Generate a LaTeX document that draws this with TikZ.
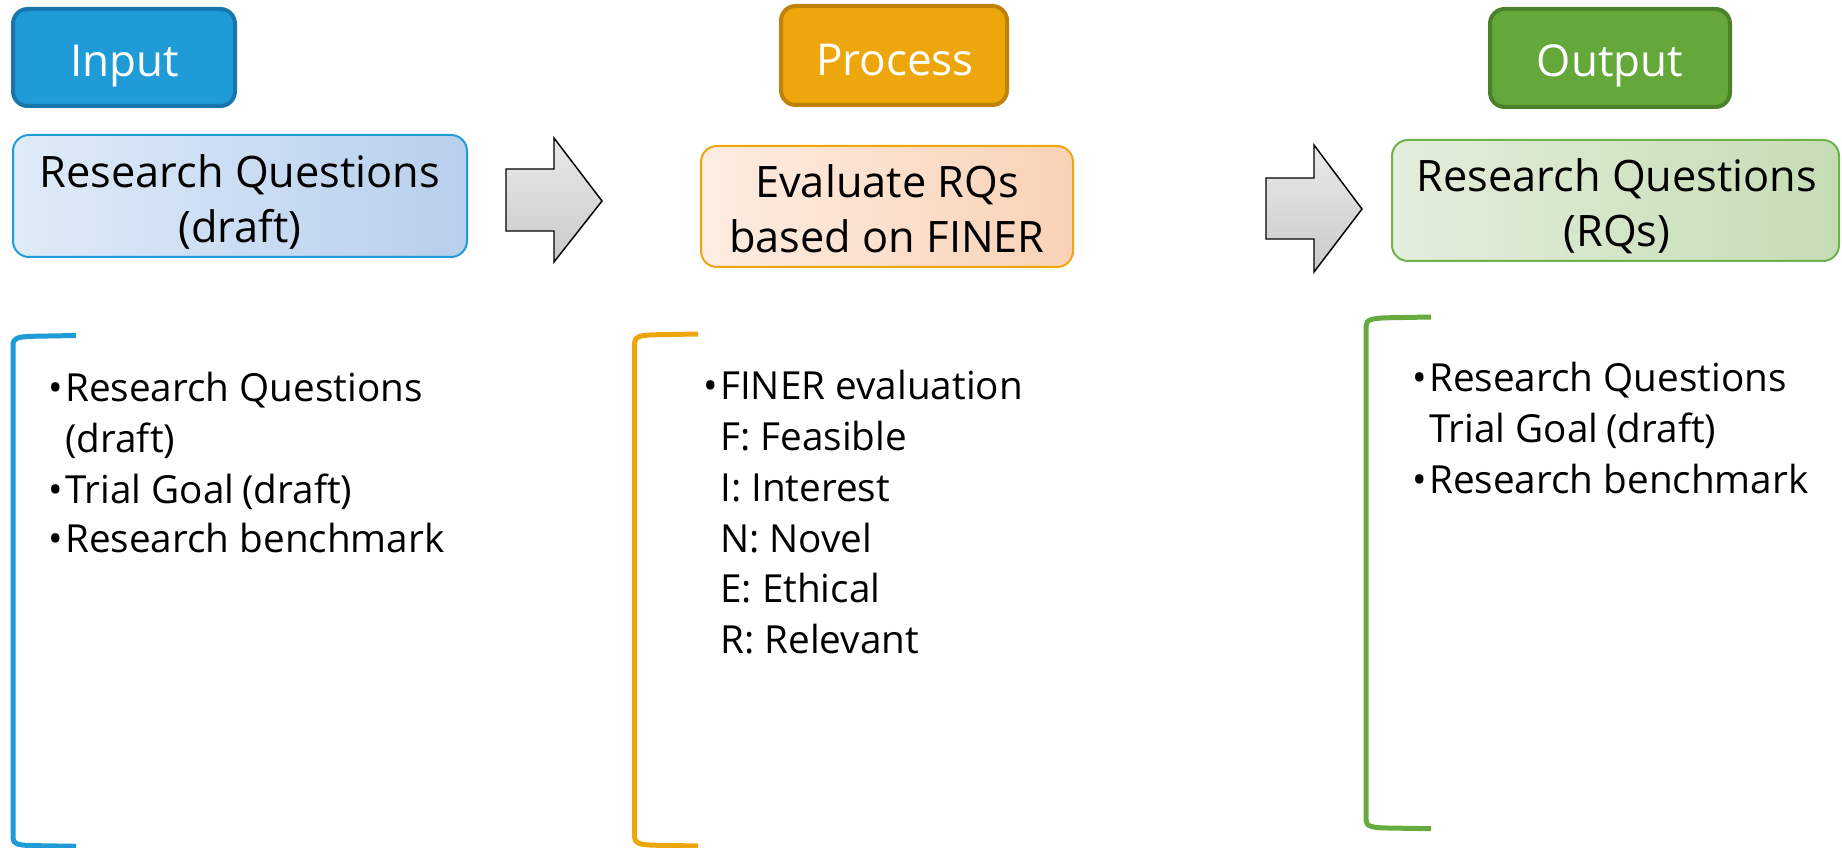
\documentclass[tikz,border=0pt]{standalone}
\usepackage{fontspec}
\setmainfont{Open Sans}

% palette
\definecolor{inblue}{HTML}{1F9BD7}
\definecolor{inblueD}{HTML}{1777AB}
\definecolor{prorange}{HTML}{EEA60D}
\definecolor{prorangeD}{HTML}{BF8108}
\definecolor{outgreen}{HTML}{64A83A}
\definecolor{outgreenD}{HTML}{4C812C}
\definecolor{blueA}{HTML}{DFEBF8}
\definecolor{blueB}{HTML}{B7CFED}
\definecolor{peachA}{HTML}{FDEDE2}
\definecolor{peachB}{HTML}{F9D2B6}
\definecolor{greenA}{HTML}{E3EEDC}
\definecolor{greenB}{HTML}{C5DCB4}
\definecolor{greenE}{HTML}{6DB24A}
\definecolor{brgreen}{HTML}{67AB3E}
\definecolor{grayA}{HTML}{E9E9E9}
\definecolor{grayB}{HTML}{CACACA}

\newcommand\pxl{0.75pt}
\newcommand\hdrfont{\fontsize{33}{40}\selectfont}
\newcommand\boxfont{\fontsize{32.5}{40}\selectfont}
\newcommand\listfont{\fontsize{29}{36}\selectfont}
\newcommand\bul{\makebox[12.75pt][l]{•}}

\tikzset{
  header/.style={rectangle, rounded corners=11pt, line width=3pt, inner sep=0pt},
  stagebox/.style={rectangle, rounded corners=12pt, line width=1.5pt, inner sep=0pt},
  hdrtext/.style={anchor=base, inner sep=0pt, text=white, font=\hdrfont},
  boxtext/.style={anchor=base, inner sep=0pt, text=black, font=\boxfont},
  listtext/.style={anchor=base west, inner sep=0pt, text=black, font=\listfont},
  blockarrow/.style={draw=black, line width=1.1pt, line join=miter,
    top color=grayA, bottom color=grayB},
  bracket/.style={line width=3.75pt, line cap=butt, line join=round},
}

\begin{document}
\begin{tikzpicture}[x=0.75pt, y=-0.75pt]
\useasboundingbox (0,0) rectangle (1842,848);

% ---- stage headers
\node[header, draw=inblueD, fill=inblue,
      minimum width=222*\pxl, minimum height=97*\pxl] (inhdr) at (124,57.5) {};
\node[hdrtext] (intxt) at (124.5,77) {Input};

\node[header, draw=prorangeD, fill=prorange,
      minimum width=226*\pxl, minimum height=99*\pxl] (prohdr) at (894,55.5) {};
\node[hdrtext] (protxt) at (895,76) {Process};

\node[header, draw=outgreenD, fill=outgreen,
      minimum width=240*\pxl, minimum height=98*\pxl] (outhdr) at (1610,58) {};
\node[hdrtext] (outtxt) at (1610,77) {Output};

% ---- stage boxes
\node[stagebox, draw=inblue, left color=blueA, middle color=blueA, right color=blueB,
      minimum width=454*\pxl, minimum height=122*\pxl] (inbox) at (240,196) {};
\node[boxtext] (inboxa) at (240,188) {Research Questions};
\node[boxtext] (inboxb) at (240,243) {(draft)};

\node[stagebox, draw=prorange, left color=peachA, middle color=peachA, right color=peachB,
      minimum width=372*\pxl, minimum height=121*\pxl] (probox) at (887,206.5) {};
\node[boxtext] (proboxa) at (887,198) {Evaluate RQs};
\node[boxtext] (proboxb) at (887,253) {based on FINER};

\node[stagebox, draw=greenE, left color=greenA, middle color=greenA, right color=greenB,
      minimum width=447*\pxl, minimum height=121*\pxl] (outbox) at (1615.5,200.5) {};
\node[boxtext] (outboxa) at (1617,192) {Research Questions};
\node[boxtext] (outboxb) at (1617,247) {(RQs)};

% ---- block arrows between the stages
\draw[blockarrow] (506,169) -- (554,169) -- (554,138) -- (602,201)
  -- (554,262) -- (554,231) -- (506,231) -- cycle;
\draw[blockarrow] (1266,178) -- (1314,178) -- (1314,145) -- (1362,209)
  -- (1314,272) -- (1314,239) -- (1266,239) -- cycle;

% ---- brackets
\draw[bracket, draw=inblue] (76,335.5) -- (32,336.3) .. controls (18,336.8) and (13,338) .. (13,345)
  -- (13,838) .. controls (13,844) and (18,845.2) .. (32,845.6) -- (76,846.3);
\draw[bracket, draw=prorange] (698,334) -- (654,334.8) .. controls (640,335.3) and (634.5,336.5) .. (634.5,343)
  -- (634.5,837) .. controls (634.5,843.5) and (640,844.8) .. (654,845.2) -- (698,846);
\draw[bracket, draw=brgreen] (1431,317) -- (1387,317.8) .. controls (1372,318.3) and (1366,319.5) .. (1366,326)
  -- (1366,820) .. controls (1366,826.5) and (1372,827.7) .. (1387,828) -- (1431,828.7);

% ---- input details
\node[listtext] (inl1) at (48,402) {\bul Research Questions};
\node[listtext] (inl2) at (65,452) {(draft)};
\node[listtext] (inl3) at (48,503) {\bul Trial Goal\kern6pt (draft)};
\node[listtext] (inl4) at (48,552) {\bul Research benchmark};

% ---- process details
\node[listtext] (prl1) at (703,400) {\bul FINER evaluation};
\node[listtext] (prl2) at (720,450.6) {F: Feasible};
\node[listtext] (prl3) at (720,501) {I: Interest};
\node[listtext] (prl4) at (720,552) {N: Novel};
\node[listtext] (prl5) at (720,602) {E: Ethical};
\node[listtext] (prl6) at (720,653) {R: Relevant};

% ---- output details
\node[listtext] (oul1) at (1412,392) {\bul Research Questions};
\node[listtext] (oul2) at (1429,442) {Trial Goal\kern6pt (draft)};
\node[listtext] (oul3) at (1412,493) {\bul Research benchmark};
\end{tikzpicture}
\end{document}
